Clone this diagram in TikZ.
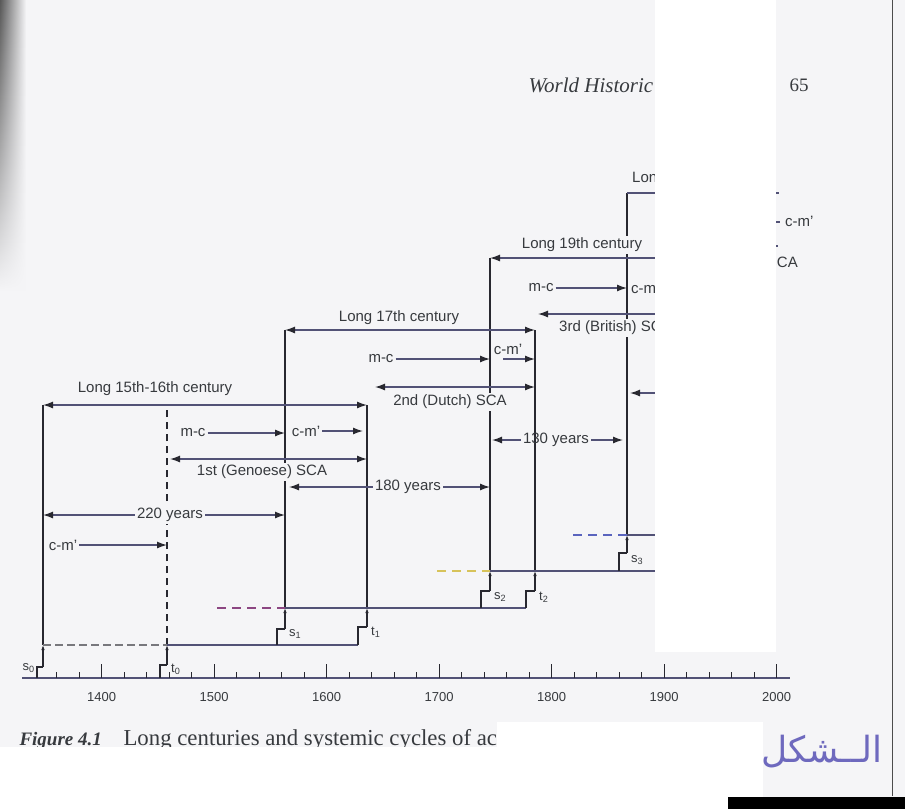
\documentclass[tikz,border=0pt]{standalone}
\usepackage{fontspec}
\setmainfont{Liberation Serif}
\setsansfont{Liberation Sans}
\newfontfamily\arabicfont[Script=Arabic]{DejaVu Sans}
\TeXXeTstate=1
\usetikzlibrary{arrows.meta,fadings}

\definecolor{paper}{RGB}{245,245,247}
\definecolor{ink}{RGB}{40,40,48}
\definecolor{hcol}{RGB}{82,82,118}
\definecolor{txt}{RGB}{55,58,62}
\definecolor{dashgray}{RGB}{120,120,125}
\definecolor{dashpurple}{RGB}{140,70,130}
\definecolor{dashyellow}{RGB}{215,195,90}
\definecolor{dashblue}{RGB}{90,100,190}
\definecolor{handink}{RGB}{110,105,190}

\tikzset{
  lbl/.style={font=\sffamily\fontsize{15}{15}\selectfont, text=txt, inner sep=2pt},
  lblbg/.style={lbl, fill=paper},
  sig/.style={font=\sffamily\fontsize{13}{13}\selectfont, text=txt, inner sep=1pt},
  yrlbl/.style={font=\sffamily\fontsize{13}{13}\selectfont, text=txt},
  level/.style={draw=hcol, line width=1.3pt},
  span/.style={level, -{Latex[length=10pt,width=7pt,color=ink]}},
  both/.style={level, {Latex[length=10pt,width=7pt,color=ink]}-{Latex[length=10pt,width=7pt,color=ink]}},
  era/.style={draw=ink, line width=1.1pt},
  riser/.style={draw=ink, line width=1.1pt},
  rise/.style={draw=ink, line width=1.1pt, -{Latex[length=5pt,width=3.5pt]}},
  tick/.style={draw=ink, line width=1pt},
}

\begin{document}
\begin{tikzpicture}[x=1pt,y=-1pt]
\useasboundingbox (0,0) rectangle (905,809);
\fill[paper] (0,0) rectangle (905,809);
% scanner shadow on the left edge
\shade[left color=black!65, right color=paper, path fading=south] (0,0) rectangle (26,290);

% page head
\node[anchor=base west,font=\itshape\fontsize{21}{21}\selectfont,text=txt] (title) at (525,92) {World Historic};
\node[anchor=base,font=\fontsize{19}{19}\selectfont,text=txt] (pagenum) at (799,91) {65};

% time axis
\draw[level] (22,678) -- (790,678);
\foreach \yr in {1360,1380,...,2000}
  \draw[tick] ({101.7+(\yr-1400)*1.125},678) -- ++(0,-6);
\foreach \yr in {1400,1500,...,2000} {
  \draw[tick] ({101.7+(\yr-1400)*1.125},678) -- ++(0,-14);
  \node[yrlbl] (y\yr) at ({101.7+(\yr-1400)*1.125},697) {\yr};
}

% ends of the verticals
\coordinate (s0top) at (43,405);  \coordinate (s0bot) at (43,645);
\coordinate (t0top) at (167,405); \coordinate (t0bot) at (167,645);
\coordinate (s1top) at (285,330); \coordinate (s1bot) at (285,608);
\coordinate (t1top) at (367,405); \coordinate (t1bot) at (367,608);
\coordinate (s2top) at (490,258); \coordinate (s2bot) at (490,571);
\coordinate (t2top) at (535,330); \coordinate (t2bot) at (535,571);
\coordinate (s3top) at (627,193); \coordinate (s3bot) at (627,535);

\draw[era] (s0bot) -- (s0top);
\draw[era,dash pattern=on 7pt off 5pt] (t0bot) -- (t0top);
\draw[era] (s1bot) -- (s1top);
\draw[era] (t1bot) -- (t1top);
\draw[era] (s2bot) -- (s2top);
\draw[era] (t2bot) -- (t2top);
\draw[era] (s3bot) -- (s3top);

% levels
\draw[level,draw=dashgray,dash pattern=on 8pt off 4pt] (s0bot) -- (t0bot);
\draw[level] (t0bot) -- (358,645);
\draw[level,draw=dashpurple,dash pattern=on 9pt off 6pt] (217,608) -- (s1bot);
\draw[level] (s1bot) -- (526,608);
\draw[level,draw=dashyellow,dash pattern=on 9pt off 6pt] (437,571) -- (s2bot);
\draw[level] (s2bot) -- (700,571);
\draw[level,draw=dashblue,dash pattern=on 9pt off 6pt] (573,535) -- (s3bot);
\draw[level] (s3bot) -- (700,535);

% steps
\draw[riser] (37,678) |- (43,667);   \draw[rise] (43,667) -- (s0bot);
\draw[riser] (160,678) |- (167,665); \draw[rise] (167,665) -- (t0bot);
\draw[riser] (277,645) |- (285,629); \draw[rise] (285,629) -- (s1bot);
\draw[riser] (358,645) |- (367,627); \draw[rise] (367,627) -- (t1bot);
\draw[riser] (481,608) |- (490,591); \draw[rise] (490,591) -- (s2bot);
\draw[riser] (526,608) |- (535,591); \draw[rise] (535,591) -- (t2bot);
\draw[riser] (619,571) |- (627,553); \draw[rise] (627,553) -- (s3bot);

\node[sig,anchor=east] (s0) at (36,668) {s\textsubscript{0}};
\node[sig,anchor=west] (t0) at (170,669) {t\textsubscript{0}};
\node[sig,anchor=west] (s1) at (288,634) {s\textsubscript{1}};
\node[sig,anchor=west] (t1) at (370,632) {t\textsubscript{1}};
\node[sig,anchor=west] (s2) at (493,597) {s\textsubscript{2}};
\node[sig,anchor=west] (t2) at (538,597) {t\textsubscript{2}};
\node[sig,anchor=west] (s3) at (630,560) {s\textsubscript{3}};

% first (Genoese) cycle
\node[lbl] (long1) at (155,389) {Long 15th-16th century};
\draw[both] (s0top) -- (t1top);
\node[lbl] (mc1) at (193,433) {m-c};
\draw[span] (mc1.east) -- (mc1.east -| s1top);
\node[lbl] (cm1) at (306,431) {c-m’};
\draw[span,shorten >=4pt] (cm1.east) -- (cm1.east -| t1top);
\coordinate (sca1w) at (170,459);
\draw[both] (sca1w) -- (sca1w -| t1top);
\node[lblbg] (sca1) at (262,472) {1st (Genoese) SCA};
\node[lbl] (gap1) at (408,487) {180 years};
\draw[span,shorten >=4pt] (gap1.west) -- (gap1.west -| s1top);
\draw[span] (gap1.east) -- (gap1.east -| s2top);
\node[lblbg] (gap0) at (170,515) {220 years};
\draw[span] (gap0.west) -- (gap0.west -| s0top);
\draw[span] (gap0.east) -- (gap0.east -| s1top);
\node[lbl] (cm0) at (63,545) {c-m’};
\draw[span] (cm0.east) -- (cm0.east -| t0top);

% second (Dutch) cycle
\node[lbl] (long2) at (399,318) {Long 17th century};
\draw[both] (s1top) -- (t2top);
\node[lbl] (mc2) at (381,359) {m-c};
\draw[span] (mc2.east) -- (mc2.east -| s2top);
\node[lbl] (cm2) at (508,349) {c-m’};
\coordinate (cm2a) at (503,359);
\draw[span] (cm2a) -- (cm2a -| t2top);
\coordinate (sca2w) at (375,387);
\draw[both] (sca2w) -- (sca2w -| t2top);
\node[lblbg] (sca2) at (450,402) {2nd (Dutch) SCA};
\node[lbl] (gap2) at (556,440) {130 years};
\draw[span,shorten >=2pt] (gap2.west) -- (gap2.west -| s2top);
\draw[span,shorten >=4pt] (gap2.east) -- (gap2.east -| s3top);

% third (British) cycle
\node[lblbg] (long3) at (582,245) {Long 19th century};
\coordinate (long3e) at (700,258);
\draw[span] (long3e) -- (s2top);
\node[lbl] (mc3) at (541,288) {m-c};
\draw[span] (mc3.east) -- (mc3.east -| s3top);
\node[lbl,anchor=west] (cm3) at (629,288) {c-m’};
\coordinate (sca3e) at (700,314);
\draw[span] (sca3e) -- (538,314);
\node[lblbg,anchor=west] (sca3) at (557,328) {3rd (British) SCA};
\coordinate (gap3e) at (700,393);
\draw[span,shorten >=3pt] (gap3e) -- (gap3e -| s3top);

% fourth cycle
\node[lbl,anchor=west] (long4) at (630,179) {Long};
\coordinate (long4e) at (700,193);
\draw[level] (s3top) -- (long4e);
\node[lbl,anchor=east] (sca4) at (800,262) {SCA};

% blank patch
\fill[white] (655,0) rectangle (776,652);
\draw[level] (776,193) -- (779,193);
\draw[level] (776,222) -- (780,222);
\draw[level] (776,246) -- (778,246);
\node[lbl,anchor=west] (cm4) at (783,221) {c-m’};

% caption
\node[anchor=base west,font=\bfseries\itshape\fontsize{19}{19}\selectfont,text=txt] (figno) at (16,745) {Figure 4.1};
\node[anchor=base west,font=\fontsize{22.8}{22.8}\selectfont,text=txt] (figcap) at (120,745) {Long centuries and systemic cycles of ac};
\fill[white] (0,747) rectangle (497,809);
\fill[white] (497,722) rectangle (763,809);
\node[font=\arabicfont\fontsize{36}{36}\selectfont,text=handink] (note) at (822,752) {\beginR الــشكل\endR};
\fill[black] (728,797) rectangle (905,809);
\draw[black!70,line width=1pt] (892,0) -- (892,796);
\end{tikzpicture}
\end{document}
